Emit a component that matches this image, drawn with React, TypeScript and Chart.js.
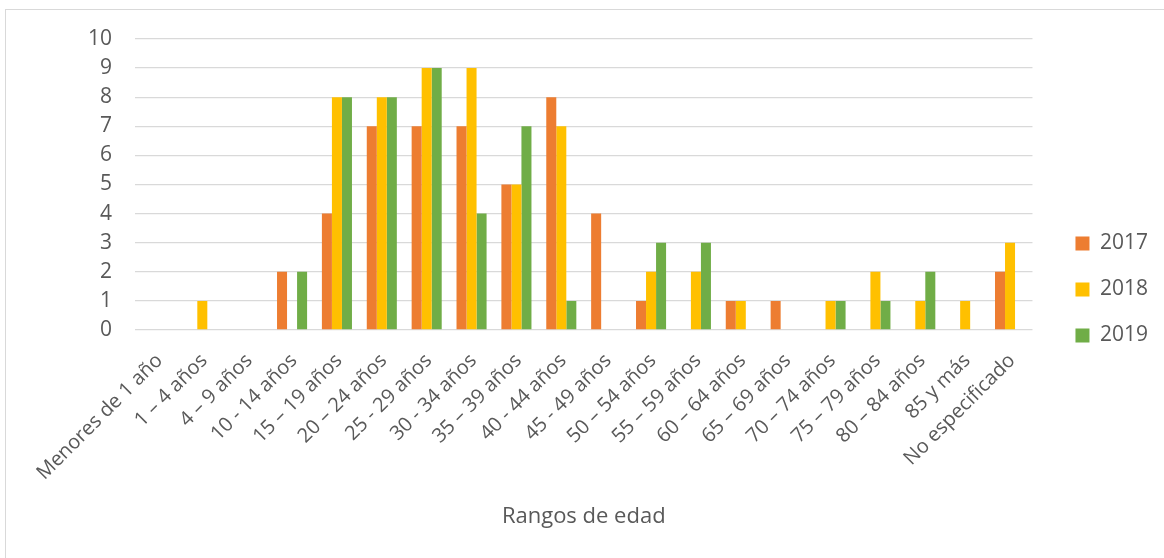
import { useEffect, useRef } from "react";
import { Chart, registerables } from "chart.js";

Chart.register(...registerables);

const categories = [
  "Menores de 1 año",
  "1 – 4 años",
  "4 – 9 años",
  "10 - 14 años",
  "15 – 19 años",
  "20 – 24 años",
  "25 - 29 años",
  "30 - 34 años",
  "35 – 39 años",
  "40 - 44 años",
  "45 - 49 años",
  "50 – 54 años",
  "55 – 59 años",
  "60 – 64 años",
  "65 – 69 años",
  "70 – 74 años",
  "75 – 79 años",
  "80 – 84 años",
  "85 y más",
  "No especificado",
];

const seriesNames = ["2017", "2018", "2019"];
const values2017 = [0, 0, 0, 2, 4, 7, 7, 7, 5, 8, 4, 1, 0, 1, 1, 0, 0, 0, 0, 2];
const values2018 = [0, 1, 0, 0, 8, 8, 9, 9, 5, 7, 0, 2, 2, 1, 0, 1, 2, 1, 1, 3];
const values2019 = [0, 0, 0, 2, 8, 8, 9, 4, 7, 1, 0, 3, 3, 0, 0, 1, 1, 2, 0, 0];
const yTicks = [0, 1, 2, 3, 4, 5, 6, 7, 8, 9, 10];
const axisTitle = "Rangos de edad";

const colors = ["#ED7D31", "#FFC000", "#70AD47"];
const textColor = "#595959";
const gridColor = "#D9D9D9";
const fontFamily = "'Open Sans', sans-serif";

export default function App() {
  const canvasRef = useRef<HTMLCanvasElement | null>(null);

  useEffect(() => {
    const canvas = canvasRef.current;
    if (!canvas) return;
    const allValues = [values2017, values2018, values2019];
    const chart = new Chart(canvas, {
      type: "bar",
      data: {
        labels: categories,
        datasets: seriesNames.map((name, i) => ({
          label: name,
          data: allValues[i],
          backgroundColor: colors[i],
          borderWidth: 0,
          categoryPercentage: 0.67,
          barPercentage: 1.0,
        })),
      },
      options: {
        responsive: false,
        animation: false,
        layout: { padding: { top: 39, bottom: 18, left: 0, right: 6 } },
        plugins: {
          legend: {
            position: "right",
            align: "center",
            labels: {
              boxWidth: 14,
              boxHeight: 14,
              padding: 25,
              color: textColor,
              font: { family: fontFamily, size: 21 },
            },
          },
          tooltip: { enabled: false },
        },
        scales: {
          x: {
            grid: { display: false, drawTicks: false },
            border: { display: false },
            ticks: {
              autoSkip: false,
              maxRotation: 45,
              minRotation: 45,
              padding: 19,
              labelOffset: 2,
              color: textColor,
              font: { family: fontFamily, size: 20 },
            },
            title: {
              display: true,
              text: axisTitle,
              color: textColor,
              font: { family: fontFamily, size: 22 },
              padding: { top: 0, bottom: 10 },
            },
            afterFit: (scale: any) => {
              scale.height = 210;
            },
          },
          y: {
            min: 0,
            max: 10,
            afterBuildTicks: (scale: any) => {
              scale.ticks = yTicks.map((v) => ({ value: v }));
            },
            grid: { color: gridColor, lineWidth: 1.3, drawTicks: false },
            border: { display: false },
            ticks: {
              padding: 23,
              color: textColor,
              font: { family: fontFamily, size: 21 },
            },
            afterFit: (scale: any) => {
              scale.width = 135;
            },
          },
          y2: {
            position: "right",
            display: true,
            grid: { display: false, drawTicks: false },
            border: { display: false },
            ticks: { display: false },
            afterFit: (scale: any) => {
              scale.width = 18;
            },
          },
        },
      },
    });
    return () => chart.destroy();
  }, []);

  return (
    <>
      <div
        style={{
          position: "fixed",
          left: 5,
          top: 9,
          width: 1400,
          height: 800,
          border: "1px solid #D9D9D9",
          background: "#ffffff",
        }}
      />
      <canvas
        ref={canvasRef}
        width={1164}
        height={558}
        style={{ position: "fixed", left: 0, top: 0, width: 1164, height: 558 }}
      />
    </>
  );
}
